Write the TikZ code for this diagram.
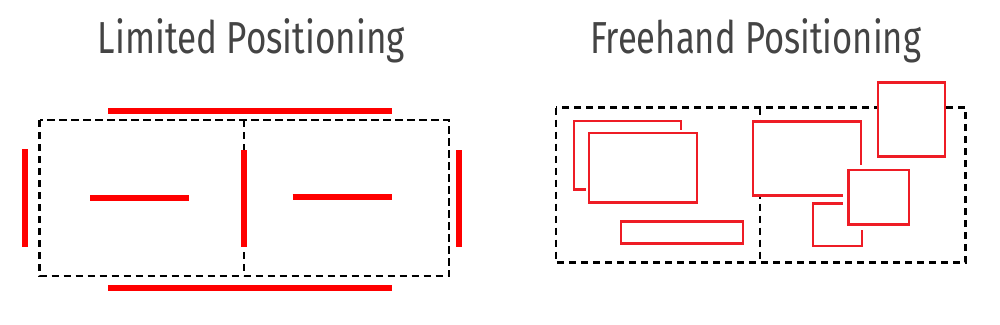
\documentclass[tikz,border=0pt]{standalone}
\usepackage{fontspec}
\setmainfont{Fira Sans}
\usepackage{graphicx}
\definecolor{titlegray}{HTML}{444444}
\definecolor{barred}{HTML}{FF0000}
\definecolor{boxred}{HTML}{EE1C25}
\begin{document}
\begin{tikzpicture}[x=0.75pt,y=-0.75pt,
  frame/.style={draw=black, line width=1.8pt, dash pattern=on 5.4pt off 3.6pt},
  bar/.style={draw=barred, line width=4.5pt},
  panel/.style={draw=boxred, line width=1.6pt, fill=white},
  halo/.style={draw=white, line width=#1, fill=white},
  title/.style={text=titlegray, inner sep=0pt, anchor=base}]
\useasboundingbox (0,0) rectangle (1000,325);
% titles
\node[title] (t1) at (251.5,53) {\resizebox*{230.25pt}{33.4pt}{Limited Positioning}};
\node[title] (t2) at (755.5,53) {\resizebox*{248.25pt}{33.4pt}{Freehand Positioning}};
% left panel
\draw[frame] (39.5,120) rectangle (449,276);
\draw[frame] (244,120) -- (244,276);
\draw[bar] (108,110.5) -- (392,110.5);
\draw[bar] (108,287.5) -- (392,287.5);
\draw[bar] (24.5,149) -- (24.5,246.5);
\draw[bar] (244,150) -- (244,247);
\draw[bar] (459,150) -- (459,247);
\draw[bar] (90,198) -- (189,198);
\draw[bar] (292.5,197) -- (392,197);
% right panel
\draw[frame] (556,107.5) rectangle (965.5,262.5);
\draw[frame] (760,107.5) -- (760,262.5);
\draw[panel] (574,121) rectangle (681,189.5);
\draw[halo=4pt] (589,133) rectangle (697,202.5);
\draw[panel] (589,133) rectangle (697,202.5);
\draw[panel] (621,221.5) rectangle (743,243.5);
\draw[panel] (753,121.5) rectangle (861,195.5);
\draw[panel] (813,203.5) rectangle (862,246);
\draw[halo=8pt] (848.5,170) rectangle (909,224.5);
\draw[panel] (848.5,170) rectangle (909,224.5);
\draw[halo=2pt] (878,82.5) rectangle (945,156.5);
\draw[panel] (878,82.5) rectangle (945,156.5);
\end{tikzpicture}
\end{document}
